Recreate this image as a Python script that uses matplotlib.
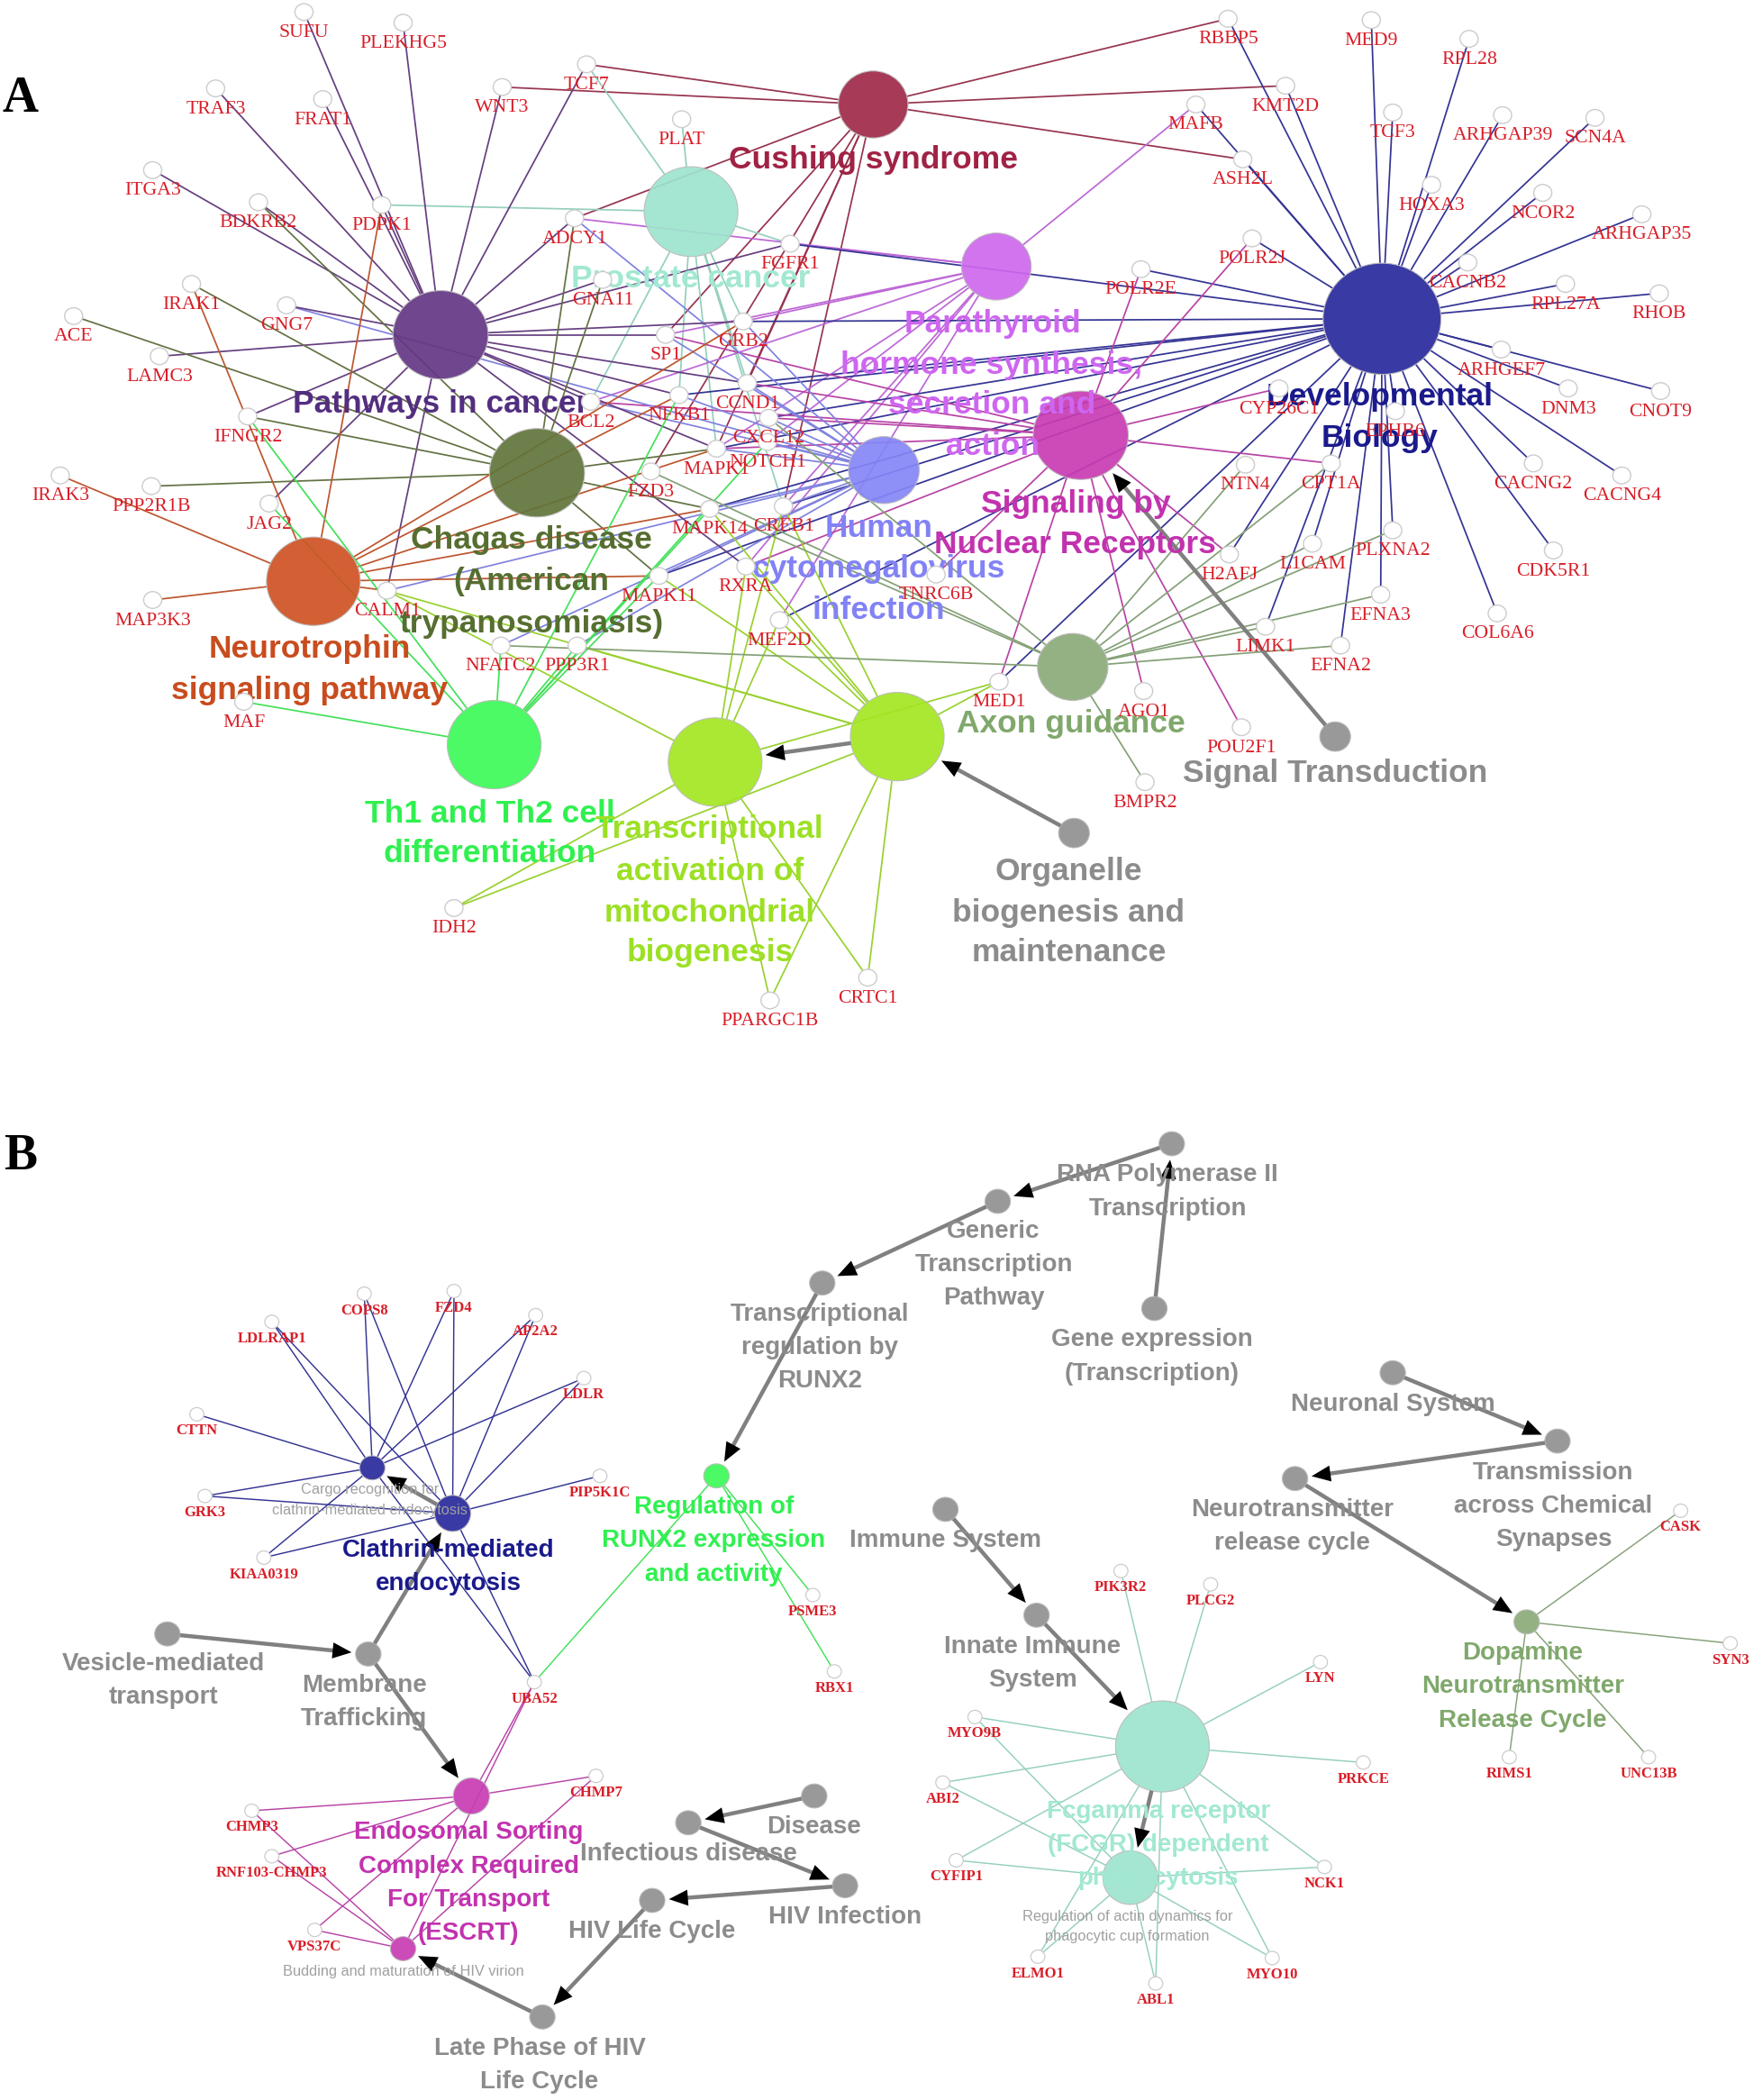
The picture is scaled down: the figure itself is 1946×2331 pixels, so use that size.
import numpy as np
import matplotlib
matplotlib.use("Agg")
import matplotlib.pyplot as plt
from matplotlib.colors import to_rgb
from matplotlib.patches import Ellipse

GENES_A = {
    "SUFU": (227, 9), "PLEKHG5": (301, 17), "TCF7": (438, 48), "TRAF3": (161, 66),
    "FRAT1": (241, 74), "WNT3": (375, 65), "PLAT": (509, 89), "ITGA3": (114, 127),
    "BDKRB2": (193, 151), "PDPK1": (285, 153), "ADCY1": (429, 163), "FGFR1": (590, 182),
    "IRAK1": (143, 212), "GNA11": (450, 209), "GNG7": (214, 228), "ACE": (55, 236),
    "GRB2": (555, 240), "SP1": (497, 250), "LAMC3": (119, 266), "CCND1": (558, 286),
    "NFKB1": (507, 295), "BCL2": (441, 300), "IFNGR2": (185, 311), "CXCL12": (574, 312),
    "NOTCH1": (573, 330), "MAPK1": (535, 335), "FZD3": (486, 352), "IRAK3": (45, 355),
    "PPP2R1B": (113, 363), "JAG2": (201, 376), "MAPK14": (530, 380), "CREB1": (585, 378),
    "MAPK11": (492, 430), "RXRA": (557, 423), "TNRC6B": (699, 429), "MEF2D": (582, 463),
    "NFATC2": (374, 482), "PPP3R1": (431, 482), "CALM1": (289, 441), "MAP3K3": (114, 448),
    "MAF": (182, 524), "IDH2": (339, 678), "PPARGC1B": (575, 747), "CRTC1": (648, 730),
    "RBBP5": (917, 14), "MED9": (1024, 15), "RPL28": (1097, 29), "KMT2D": (960, 64),
    "MAFB": (893, 78), "TCF3": (1040, 84), "ARHGAP39": (1122, 86), "SCN4A": (1191, 88),
    "ASH2L": (928, 119), "HOXA3": (1069, 138), "NCOR2": (1152, 144), "ARHGAP35": (1226, 160),
    "POLR2J": (935, 178), "POLR2E": (852, 201), "CACNB2": (1096, 196), "RPL27A": (1169, 212),
    "RHOB": (1239, 219), "ARHGEF7": (1121, 261), "DNM3": (1171, 290), "CNOT9": (1240, 292),
    "CYP26C1": (955, 290), "EPHB6": (1042, 307), "NTN4": (930, 347), "CPT1A": (994, 346),
    "CACNG2": (1145, 346), "CACNG4": (1211, 355), "PLXNA2": (1040, 396), "L1CAM": (980, 406),
    "H2AFJ": (918, 414), "CDK5R1": (1160, 411), "EFNA3": (1031, 444), "COL6A6": (1118, 458),
    "LIMK1": (945, 468), "EFNA2": (1001, 482), "MED1": (746, 509), "AGO1": (854, 516),
    "POU2F1": (927, 543), "BMPR2": (855, 584),
}

GENES_B = {
    "LDLRAP1": (203, 987), "COPS8": (272, 966), "FZD4": (339, 964), "AP2A2": (400, 982),
    "LDLR": (436, 1029), "CTTN": (147, 1056), "PIP5K1C": (448, 1102), "GRK3": (153, 1117),
    "KIAA0319": (197, 1163), "UBA52": (399, 1256), "CHMP7": (445, 1326), "CHMP3": (188, 1352),
    "RNF103-CHMP3": (203, 1386), "VPS37C": (235, 1441), "PSME3": (607, 1191), "RBX1": (623, 1248),
    "PIK3R2": (837, 1173), "PLCG2": (904, 1183), "LYN": (986, 1241), "MYO9B": (728, 1282),
    "PRKCE": (1018, 1316), "ABI2": (704, 1331), "CYFIP1": (714, 1389), "NCK1": (989, 1394),
    "ELMO1": (775, 1461), "MYO10": (950, 1462), "ABL1": (863, 1481), "CASK": (1255, 1128),
    "SYN3": (1292, 1227), "RIMS1": (1127, 1312), "UNC13B": (1231, 1312),
}

# name: x, y, radius x, radius y
HUBS = {
    "cushing": (652, 78, 26, 25), "prostate": (516, 158, 35, 33.5), "parathyroid": (744, 199, 26, 25),
    "developmental": (1032, 238, 44, 41.5), "pathways": (329, 250, 35.5, 33), "nuclear": (807, 325, 35.5, 33),
    "chagas": (401, 353, 35.5, 33), "cmv": (660, 351, 26.4, 25), "axon": (801, 498, 26.3, 25),
    "neurotrophin": (234, 434, 35, 33), "th1": (369, 556, 35, 33), "lime1": (534, 569, 35, 33),
    "lime2": (670, 550, 35, 33),
    "signal": (997, 550, 11.5, 11), "organelle": (802, 622, 11.5, 11),
    "rnapol": (875, 854, 9.5, 9), "generic": (745, 897, 9.5, 9), "runx2reg": (614, 958, 9.5, 9),
    "geneexpr": (862, 977, 9.5, 9), "neuronal": (1040, 1025, 9.5, 9), "transmission": (1163, 1076, 9.5, 9),
    "release": (967, 1104, 9.5, 9), "immune": (706, 1127, 9.5, 9), "innate": (774, 1206, 9.5, 9),
    "vesicle": (125, 1220, 9.5, 9), "membrane": (275, 1235, 9.5, 9), "disease": (608, 1341, 9.5, 9),
    "infectious": (514, 1361, 9.5, 9), "hivinf": (631, 1408, 9.5, 9), "hivlife": (487, 1419, 9.5, 9),
    "late": (405, 1506, 9.5, 9),
    "runx2": (535, 1102, 9.5, 9), "cargo": (278, 1096, 9.5, 9), "clathrin": (338, 1130, 13.5, 13.5),
    "escrt": (352, 1341, 13.5, 13.5), "budding": (301, 1455, 9.5, 9), "fcgamma": (868, 1304, 35, 34),
    "actin": (844, 1402, 20.5, 20), "dopamine": (1140, 1211, 9.5, 9),
}

HUB_COLORS = {
    "cushing": "#A83A58", "prostate": "#A6E6D2", "parathyroid": "#D274EE", "developmental": "#3A3AA4",
    "pathways": "#70468E", "nuclear": "#CC4CB8", "chagas": "#6E7F4A", "cmv": "#8F90F8", "axon": "#94B284",
    "neurotrophin": "#D26034", "th1": "#4CFA64", "lime1": "#AAE834", "lime2": "#AAE834",
    "runx2": "#4CFA64", "cargo": "#3A3AA4", "clathrin": "#3A3AA4", "escrt": "#CC4CB8", "budding": "#CC4CB8",
    "fcgamma": "#A6E6D2", "actin": "#A6E6D2", "dopamine": "#94B284",
}

EDGES = {
    "cushing": ["TCF7", "WNT3", "RBBP5", "KMT2D", "ASH2L", "ADCY1", "SP1", "MAPK1", "FZD3", "CCND1", "CREB1"],
    "prostate": ["PLAT", "TCF7", "PDPK1", "FGFR1", "GRB2", "CCND1", "BCL2", "NFKB1", "CREB1", "MAPK1"],
    "parathyroid": ["MAFB", "FGFR1", "ADCY1", "GRB2", "SP1", "BCL2", "NOTCH1", "CREB1", "RXRA", "MEF2D", "MAPK1"],
    "developmental": ["RBBP5", "MED9", "RPL28", "KMT2D", "MAFB", "ASH2L", "TCF3", "ARHGAP39", "SCN4A", "HOXA3",
                      "NCOR2", "ARHGAP35", "POLR2J", "POLR2E", "CACNB2", "RPL27A", "RHOB", "ARHGEF7", "DNM3",
                      "CNOT9", "CACNG2", "CACNG4", "CDK5R1", "COL6A6", "EFNA3", "EFNA2", "PLXNA2", "L1CAM",
                      "LIMK1", "H2AFJ", "MED1", "EPHB6", "FGFR1", "GRB2", "CCND1", "NFKB1", "CXCL12", "MAPK1",
                      "MAPK14", "CREB1", "MAPK11", "MEF2D"],
    "nuclear": ["POLR2E", "POLR2J", "CYP26C1", "CPT1A", "H2AFJ", "POU2F1", "AGO1", "MED1", "TNRC6B", "BCL2",
                "SP1", "CCND1", "CXCL12", "MAPK1", "RXRA"],
    "cmv": ["ADCY1", "GNG7", "GRB2", "CCND1", "NFKB1", "CXCL12", "MAPK1", "NOTCH1", "MAPK14", "CREB1", "MAPK11",
            "NFATC2", "PPP3R1", "CALM1", "SP1", "BCL2"],
    "pathways": ["SUFU", "PLEKHG5", "TCF7", "TRAF3", "FRAT1", "WNT3", "ITGA3", "BDKRB2", "PDPK1", "ADCY1", "FGFR1",
                 "IFNGR2", "GNG7", "LAMC3", "GRB2", "SP1", "GNA11", "CCND1", "NFKB1", "BCL2", "MAPK1", "JAG2",
                 "CALM1", "RXRA"],
    "chagas": ["BDKRB2", "IRAK1", "ACE", "IFNGR2", "PPP2R1B", "MAPK1", "MAPK14", "ADCY1", "GNA11", "MAPK11"],
    "neurotrophin": ["IRAK1", "IRAK3", "MAP3K3", "PDPK1", "GRB2", "NFKB1", "MAPK1", "MAPK14", "MAPK11", "CALM1"],
    "th1": ["IFNGR2", "JAG2", "MAF", "NFATC2", "PPP3R1", "NFKB1", "NOTCH1", "MAPK14", "MAPK11"],
    "lime1": ["IDH2", "PPARGC1B", "CRTC1", "MED1", "CALM1", "CREB1", "MEF2D", "RXRA"],
    "lime2": ["IDH2", "PPARGC1B", "CRTC1", "MED1", "CALM1", "PPP3R1", "MAPK11", "MAPK14", "CREB1", "RXRA", "MEF2D"],
    "axon": ["NTN4", "CPT1A", "L1CAM", "PLXNA2", "EFNA3", "LIMK1", "EFNA2", "BMPR2", "NFATC2", "FZD3", "CXCL12",
             "MAPK14"],
    "clathrin": ["LDLRAP1", "COPS8", "FZD4", "AP2A2", "LDLR", "PIP5K1C", "GRK3", "KIAA0319", "UBA52"],
    "cargo": ["LDLRAP1", "COPS8", "FZD4", "AP2A2", "LDLR", "CTTN", "GRK3", "KIAA0319", "UBA52"],
    "escrt": ["CHMP7", "CHMP3", "RNF103-CHMP3", "VPS37C", "UBA52"],
    "budding": ["CHMP7", "CHMP3", "RNF103-CHMP3", "VPS37C", "UBA52"],
    "runx2": ["UBA52", "PSME3", "RBX1"],
    "fcgamma": ["PIK3R2", "PLCG2", "LYN", "MYO9B", "PRKCE", "ABI2", "CYFIP1", "NCK1", "ELMO1", "MYO10", "ABL1"],
    "actin": ["MYO9B", "ABI2", "CYFIP1", "NCK1", "ELMO1", "MYO10", "ABL1"],
    "dopamine": ["CASK", "SYN3", "RIMS1", "UNC13B"],
}

ARROWS = [
    ("signal", "nuclear"), ("organelle", "lime2"), ("lime2", "lime1"),
    ("geneexpr", "rnapol"), ("rnapol", "generic"), ("generic", "runx2reg"), ("runx2reg", "runx2"),
    ("membrane", "clathrin"), ("clathrin", "cargo"), ("vesicle", "membrane"), ("membrane", "escrt"),
    ("neuronal", "transmission"), ("transmission", "release"), ("release", "dopamine"),
    ("immune", "innate"), ("innate", "fcgamma"), ("fcgamma", "actin"),
    ("disease", "infectious"), ("infectious", "hivinf"), ("hivinf", "hivlife"), ("hivlife", "late"),
    ("late", "budding"),
]

# text, x, y, colour, size
HUB_LABELS = [
    ("Cushing syndrome", 652, 118, "#A02244", 25.5),
    ("Prostate cancer", 516, 207, "#A2E8D2", 25.5),
    ("Parathyroid", 741, 240, "#CE66F0", 25.5),
    ("hormone synthesis,", 740, 271, "#CE66F0", 25.5),
    ("secretion and", 741, 301, "#CE66F0", 25.5),
    ("action", 741, 332, "#CE66F0", 25.5),
    ("Developmental", 1030, 295, "#1A1A8C", 25.5),
    ("Biology", 1030, 326, "#1A1A8C", 25.5),
    ("Pathways in cancer", 329, 300, "#532E80", 25.5),
    ("Signaling by", 803, 375, "#C232AE", 25.5),
    ("Nuclear Receptors", 803, 405, "#C232AE", 25.5),
    ("Chagas disease", 397, 402, "#566E30", 25.5),
    ("(American", 397, 433, "#566E30", 25.5),
    ("trypanosomiasis)", 397, 464, "#566E30", 25.5),
    ("Human", 656, 393, "#8282F6", 25.5),
    ("cytomegalovirus", 656, 423, "#8282F6", 25.5),
    ("infection", 656, 454, "#8282F6", 25.5),
    ("Neurotrophin", 231, 483, "#C84C1E", 25.5),
    ("signaling pathway", 231, 514, "#C84C1E", 25.5),
    ("Th1 and Th2 cell", 366, 606, "#30F050", 25.5),
    ("differentiation", 366, 636, "#30F050", 25.5),
    ("Transcriptional", 530, 618, "#9CE024", 25.5),
    ("activation of", 530, 649, "#9CE024", 25.5),
    ("mitochondrial", 530, 680, "#9CE024", 25.5),
    ("biogenesis", 530, 710, "#9CE024", 25.5),
    ("Axon guidance", 800, 539, "#80A86C", 25.5),
    ("Signal Transduction", 997, 576, "#8C8C8C", 25.5),
    ("Organelle", 798, 649, "#8C8C8C", 25.5),
    ("biogenesis and", 798, 680, "#8C8C8C", 25.5),
    ("maintenance", 798, 710, "#8C8C8C", 25.5),
    ("RNA Polymerase II", 872, 876, "#8C8C8C", 20),
    ("Transcription", 872, 901, "#8C8C8C", 20),
    ("Generic", 742, 918, "#8C8C8C", 20),
    ("Transcription", 742, 943, "#8C8C8C", 20),
    ("Pathway", 742, 968, "#8C8C8C", 20),
    ("Transcriptional", 612, 980, "#8C8C8C", 20),
    ("regulation by", 612, 1005, "#8C8C8C", 20),
    ("RUNX2", 612, 1030, "#8C8C8C", 20),
    ("Gene expression", 860, 999, "#8C8C8C", 20),
    ("(Transcription)", 860, 1024, "#8C8C8C", 20),
    ("Neuronal System", 1040, 1047, "#8C8C8C", 20),
    ("Transmission", 1160, 1098, "#8C8C8C", 20),
    ("across Chemical", 1160, 1123, "#8C8C8C", 20),
    ("Synapses", 1160, 1148, "#8C8C8C", 20),
    ("Neurotransmitter", 965, 1126, "#8C8C8C", 20),
    ("release cycle", 965, 1151, "#8C8C8C", 20),
    ("Immune System", 706, 1149, "#8C8C8C", 20),
    ("Innate Immune", 771, 1228, "#8C8C8C", 20),
    ("System", 771, 1253, "#8C8C8C", 20),
    ("Vesicle-mediated", 122, 1241, "#8C8C8C", 20),
    ("transport", 122, 1266, "#8C8C8C", 20),
    ("Membrane", 272, 1257, "#8C8C8C", 20),
    ("Trafficking", 272, 1282, "#8C8C8C", 20),
    ("Disease", 608, 1363, "#8C8C8C", 20),
    ("Infectious disease", 514, 1383, "#8C8C8C", 20),
    ("HIV Infection", 631, 1430, "#8C8C8C", 20),
    ("HIV Life Cycle", 487, 1441, "#8C8C8C", 20),
    ("Late Phase of HIV", 403, 1528, "#8C8C8C", 20),
    ("Life Cycle", 403, 1553, "#8C8C8C", 20),
    ("Regulation of", 533, 1124, "#30F050", 20),
    ("RUNX2 expression", 533, 1149, "#30F050", 20),
    ("and activity", 533, 1174, "#30F050", 20),
    ("Clathrin-mediated", 335, 1156, "#1A1A8C", 20),
    ("endocytosis", 335, 1181, "#1A1A8C", 20),
    ("Endosomal Sorting", 350, 1367, "#C232AE", 20),
    ("Complex Required", 350, 1392, "#C232AE", 20),
    ("For Transport", 350, 1417, "#C232AE", 20),
    ("(ESCRT)", 350, 1442, "#C232AE", 20),
    ("Fcgamma receptor", 865, 1351, "#A2E8D2", 20),
    ("(FCGR) dependent", 865, 1376, "#A2E8D2", 20),
    ("phagocytosis", 865, 1401, "#A2E8D2", 20),
    ("Dopamine", 1137, 1233, "#80A86C", 20),
    ("Neurotransmitter", 1137, 1258, "#80A86C", 20),
    ("Release Cycle", 1137, 1283, "#80A86C", 20),
]

SMALL_LABELS = [
    ("Cargo recognition for", 276, 1112), ("clathrin-mediated endocytosis", 276, 1128),
    ("Budding and maturation of HIV virion", 301, 1472),
    ("Regulation of actin dynamics for", 842, 1431), ("phagocytic cup formation", 842, 1446),
]

GRAY_HUB = "#999999"
HUB_ALPHA = 0.92


def edge_distance(name, ux, uy):
    # distance from a hub centre to its outline along a unit direction
    rx, ry = HUBS[name][2:]
    return 1 / np.hypot(ux / rx, uy / ry)


def draw_edges(ax, positions):
    for hub, genes in EDGES.items():
        hx, hy = HUBS[hub][:2]
        color = np.array(to_rgb(HUB_COLORS[hub])) * 0.9
        for gene in genes:
            gx, gy = positions[gene]
            dx, dy = gx - hx, gy - hy
            length = np.hypot(dx, dy)
            ux, uy = dx / length, dy / length
            d = edge_distance(hub, ux, uy)
            lw = 1.25 if hy < 800 else 1.05
            ax.plot([hx + ux * d, gx], [hy + uy * d, gy], color=color, lw=lw, zorder=1,
                    solid_capstyle="butt")


def draw_arrow(ax, start, end):
    sx, sy = HUBS[start][:2]
    ex, ey = HUBS[end][:2]
    dx, dy = ex - sx, ey - sy
    length = np.hypot(dx, dy)
    ux, uy = dx / length, dy / length
    d_start = edge_distance(start, ux, uy)
    d_end = edge_distance(end, ux, uy)
    tip = (ex - ux * (d_end + 3), ey - uy * (d_end + 3))
    neck = (tip[0] - ux * 10, tip[1] - uy * 10)
    ax.plot([sx + ux * d_start, neck[0]], [sy + uy * d_start, neck[1]], color="#808080", lw=3.2,
            zorder=2.2, solid_capstyle="butt")
    ax.annotate("", xy=tip, xytext=neck, zorder=2.3, arrowprops=dict(
        arrowstyle="-|>,head_length=0.95,head_width=0.4", color="black", lw=0,
        shrinkA=0, shrinkB=0, mutation_scale=16))


fig = plt.figure(figsize=(19.46, 23.31), dpi=100)
ax = fig.add_axes([0, 0, 1, 1])
ax.set_xlim(0, 1309)
ax.set_ylim(1568, 0)
ax.axis("off")

all_genes = {**GENES_A, **GENES_B}
draw_edges(ax, all_genes)

for name, (x, y, rx, ry) in HUBS.items():
    # the fill is see-through, so start darker to land on the colour seen over white
    seen = np.array(to_rgb(HUB_COLORS.get(name, GRAY_HUB)))
    fill = np.clip((seen - (1 - HUB_ALPHA)) / HUB_ALPHA, 0, 1)
    ax.add_patch(Ellipse((x, y), 2 * rx, 2 * ry, facecolor=fill, edgecolor="#BBBBBB", lw=0.8,
                         alpha=HUB_ALPHA, zorder=2))

for a, b in ARROWS:
    draw_arrow(ax, a, b)

for text, x, y, color, size in HUB_LABELS:
    ax.text(x, y + 1.5, text, color=color, fontsize=size, fontweight="bold", family="Liberation Sans",
            ha="center", va="center", zorder=3)

for text, x, y in SMALL_LABELS:
    ax.text(x, y, text, color="#A0A0A0", fontsize=11.8, family="Liberation Sans",
            ha="center", va="center", zorder=3)

for gene, (x, y) in GENES_A.items():
    ax.add_patch(Ellipse((x, y), 13.5, 12.5, facecolor="white", edgecolor="#CCCCCC", lw=1, zorder=4))
    ax.text(x, y + 15.5, gene, color="#D81E28", fontsize=15.7, family="Liberation Serif",
            ha="center", va="center", zorder=5)

for gene, (x, y) in GENES_B.items():
    ax.add_patch(Ellipse((x, y), 10.5, 10, facecolor="white", edgecolor="#CCCCCC", lw=0.9, zorder=4))
    ax.text(x, y + 12.5, gene, color="#D81E28", fontsize=12, fontweight="bold", family="Liberation Serif",
            ha="center", va="center", zorder=5)

ax.text(15, 74, "A", color="black", fontsize=40, fontweight="bold", family="Liberation Serif",
        ha="center", va="center")
ax.text(15, 864, "B", color="black", fontsize=40, fontweight="bold", family="Liberation Serif",
        ha="center", va="center")

fig.savefig("out.png", dpi=100)
